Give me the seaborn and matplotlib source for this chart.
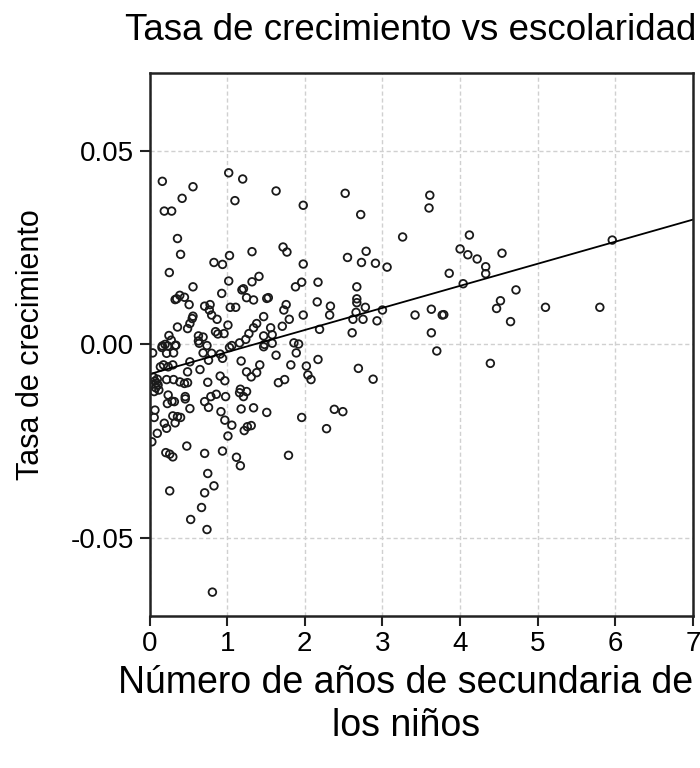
import pandas as pd
import matplotlib
matplotlib.use('Agg')
import matplotlib.pyplot as plt
import seaborn as sns

# valores (años de secundaria, tasa de crecimiento)
escolaridad = [
    0.165, 0.19, 0.285, 0.42, 0.56, 0.36, 0.40, 0.255,
    1.02, 1.20, 1.10, 1.63, 1.98, 2.52, 2.72, 3.26,
    1.03, 0.83, 0.94, 1.32, 1.72, 1.77, 1.98, 2.55, 2.73, 2.79, 2.91, 3.06,
    0.56, 0.35, 0.39, 0.45, 0.33, 0.51,
    0.93, 1.02, 1.19, 1.21, 1.32, 1.41,
    1.88, 1.96, 2.17, 2.67,
    3.61, 3.60, 4.12, 4.00, 4.10, 4.22, 4.33, 4.33, 4.54, 3.86, 4.04, 4.72, 5.96,
    0.71, 0.78, 0.77, 0.80, 0.87, 0.56, 0.55, 0.52, 0.49, 0.36, 0.25,
    0.63, 0.64, 0.85, 0.88, 0.96, 1.01,
    1.04, 1.11, 1.25, 1.34, 1.51, 1.53,
    1.47, 1.38, 1.34, 1.28, 1.24, 1.16, 1.06, 1.03,
    1.47, 1.56, 1.58, 1.58, 1.48,
    1.71, 1.80, 1.73, 1.76, 1.98, 1.86, 1.92,
    2.16, 2.19, 2.33, 2.32,
    2.67, 2.67, 2.66, 2.62, 2.78, 2.75, 2.93, 3.00, 2.61, 3.42,
    3.63, 3.77, 3.79, 3.63, 4.52, 4.47, 4.65, 5.10, 5.80,
    0.165, 0.235, 0.33, 0.74, 0.63, 0.69, 0.20, 0.28,
    3.70, 4.39,
    0.04, 0.16, 0.22, 0.31, 0.34, 0.69, 0.76, 0.80, 0.91, 0.94, 1.18, 1.25,
    1.31, 1.38, 1.42, 1.47, 1.63, 1.66, 1.74, 1.82, 1.89, 2.02, 2.04, 2.08,
    2.17, 2.69, 2.88,
    0.14, 0.18, 0.24, 0.30, 0.22, 0.31, 0.39, 0.49, 0.49, 0.45, 0.52, 0.65,
    0.75, 0.91, 0.97,
    0.05, 0.07, 0.09, 0.11, 0.08, 0.12, 0.06, 0.10,
    0.24, 0.23, 0.29, 0.32, 0.46, 0.46, 0.52, 0.07, 0.06, 0.19, 0.22, 0.30,
    0.36, 0.40, 0.33, 0.10, 0.03, 0.48,
    0.71, 0.76, 0.79, 0.86, 0.98, 0.92, 0.97, 1.06, 1.01, 0.94, 1.12, 1.17,
    1.17, 1.16, 1.25, 1.21, 1.18, 1.34, 1.51, 1.22, 1.26, 1.31,
    1.96, 2.38, 2.49, 2.28, 1.79,
    0.21, 0.26, 0.30, 0.71, 0.75, 0.83, 0.71, 0.26, 0.67, 0.53, 0.74, 0.81,
]
crecimiento = [
    0.0422, 0.0345, 0.0345, 0.0378, 0.0408, 0.0274, 0.0233, 0.0186,
    0.0444, 0.0428, 0.0372, 0.0397, 0.0360, 0.0391, 0.0336, 0.0278,
    0.0230, 0.0212, 0.0207, 0.0240, 0.0252, 0.0239, 0.0208, 0.0225, 0.0212, 0.0241, 0.0210, 0.0200,
    0.0149, 0.0118, 0.0127, 0.0122, 0.0116, 0.0103,
    0.0132, 0.0164, 0.0141, 0.0144, 0.0162, 0.0176,
    0.0149, 0.0161, 0.0161, 0.0149,
    0.0386, 0.0353, 0.0283, 0.0247, 0.0232, 0.0221, 0.0201, 0.0183, 0.0236, 0.0184, 0.0157, 0.0141, 0.0270,
    0.0099, 0.0103, 0.0089, 0.0076, 0.0065, 0.0073, 0.0067, 0.0054, 0.0041, 0.0045, 0.0023,
    0.0022, 0.0003, 0.0033, 0.0027, 0.0028, 0.0050,
    0.0096, 0.0096, 0.0121, 0.0115, 0.0119, 0.0121,
    0.0072, 0.0054, 0.0043, 0.0028, 0.0013, 0.0004, -0.0003, -0.0008,
    0.0022, 0.0043, 0.0025, 0.0003, 0.0000,
    0.0047, 0.0065, 0.0089, 0.0103, 0.0076, 0.0004, 0.0001,
    0.0110, 0.0039, 0.0099, 0.0076,
    0.0118, 0.0108, 0.0083, 0.0065, 0.0096, 0.0065, 0.0061, 0.0089, 0.0030, 0.0076,
    0.0091, 0.0076, 0.0077, 0.0030, 0.0113, 0.0093, 0.0059, 0.0096, 0.0096,
    -0.0004, -0.0004, -0.0003, -0.0003, 0.0009, 0.0019, 0.0000, 0.0011,
    -0.0017, -0.0049,
    -0.0022, -0.0008, -0.0023, -0.0022, -0.0002, -0.0022, -0.0041, -0.0023, -0.0025, -0.0036, -0.0043, -0.0071,
    -0.0084, -0.0073, -0.0053, -0.0006, -0.0028, -0.0099, -0.0091, -0.0053, -0.0022, -0.0056, -0.0079, -0.0091,
    -0.0039, -0.0062, -0.0090,
    -0.0058, -0.0053, -0.0058, -0.0053, -0.0091, -0.0091, -0.0097, -0.0071, -0.0099, -0.0101, -0.0045, -0.0065,
    -0.0098, -0.0082, -0.0094,
    -0.0085, -0.0095, -0.0100, -0.0105, -0.0112, -0.0118, -0.0122, -0.0090,
    -0.0131, -0.0153, -0.0147, -0.0148, -0.0135, -0.0141, -0.0166, -0.0170, -0.0189, -0.0204, -0.0217, -0.0185,
    -0.0187, -0.0189, -0.0203, -0.0230, -0.0252, -0.0263,
    -0.0148, -0.0163, -0.0135, -0.0129, -0.0135, -0.0174, -0.0196, -0.0209, -0.0237, -0.0276, -0.0292, -0.0314,
    -0.0116, -0.0125, -0.0122, -0.0135, -0.0167, -0.0164, -0.0176, -0.0223, -0.0213, -0.0210,
    -0.0189, -0.0168, -0.0174, -0.0218, -0.0287,
    -0.0280, -0.0284, -0.0291, -0.0282, -0.0334, -0.0366, -0.0384, -0.0379, -0.0422, -0.0453, -0.0479, -0.0641,
]

recta_x = [0, 7]
recta_y = [-0.0077, 0.0323]

xticks = [0, 1, 2, 3, 4, 5, 6, 7]
yticks = [-0.05, 0.0, 0.05]
ytick_labels = ['-0.05', '0.00', '0.05']

df = pd.DataFrame({'escolaridad': escolaridad, 'crecimiento': crecimiento})

sns.set_theme(style='whitegrid')
plt.rcParams['font.family'] = ['Liberation Sans', 'DejaVu Sans']
plt.rcParams['text.color'] = 'black'
plt.rcParams['axes.labelcolor'] = 'black'

fig = plt.figure(figsize=(7, 7.68), dpi=100)
ax = fig.add_axes([0.2136, 0.1983, 0.7764, 0.707])

sns.scatterplot(data=df, x='escolaridad', y='crecimiento', ax=ax,
                marker='o', s=30, facecolors='none', edgecolor='#1a1a1a',
                linewidth=1.3, legend=False)
sns.lineplot(x=recta_x, y=recta_y, ax=ax, color='black', linewidth=1.3)

ax.set_xlim(0, 7)
ax.set_ylim(-0.0702, 0.0703)
ax.set_xticks(xticks)
ax.set_xticklabels([str(t) for t in xticks])
ax.set_yticks(yticks)
ax.set_yticklabels(ytick_labels)

ax.grid(True, color='#d0d0d0', linestyle=(0, (3, 2)), linewidth=1.0)
for sp in ax.spines.values():
    sp.set_color('#222222')
    sp.set_linewidth(1.8)
ax.tick_params(axis='both', which='major', direction='out', length=7, width=1.5,
               color='#222222', labelsize=20, labelcolor='black', pad=4,
               bottom=True, left=True)

ax.set_xlabel('Número de años de secundaria de\nlos niños', fontsize=27,
              linespacing=1.25)
ax.xaxis.set_label_coords(0.472, -0.09, transform=ax.transAxes)
ax.xaxis.label.set_va('top')
ax.set_ylabel('Tasa de crecimiento', fontsize=22)
ax.yaxis.set_label_coords(-0.19, 0.5)

fig.text(0.586, 1 - 31 / 768, 'Tasa de crecimiento vs escolaridad',
         fontsize=26.5, ha='center', va='center')

plt.savefig('out.png', dpi=100)
